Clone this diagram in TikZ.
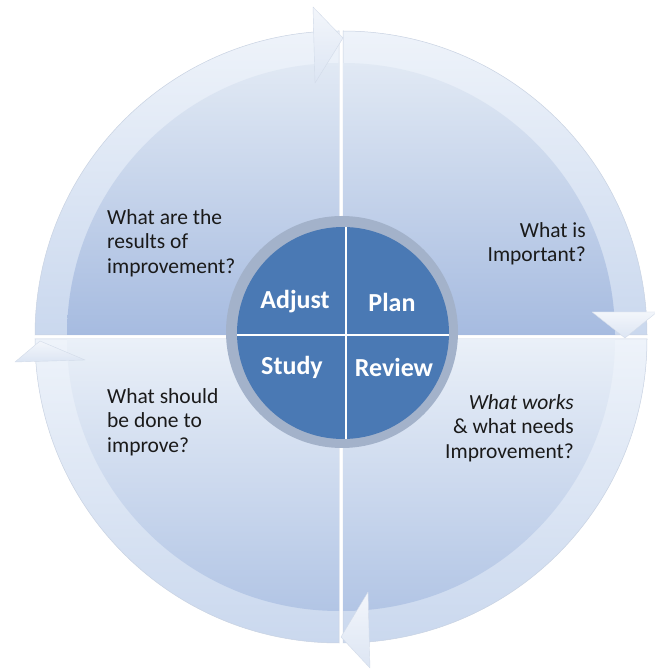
\documentclass[tikz,border=0pt]{standalone}
\usepackage{fontspec}
\setmainfont{Carlito}
\definecolor{bandA}{HTML}{EEF3FA}
\definecolor{bandB}{HTML}{CAD8EE}
\definecolor{quadA}{HTML}{E1E9F4}
\definecolor{quadB}{HTML}{A6BBE0}
\definecolor{quadC}{HTML}{EAF0F8}
\definecolor{quadD}{HTML}{B2C5E5}
\definecolor{ringcol}{HTML}{A3B2CA}
\definecolor{discblue}{HTML}{4A79B4}
\definecolor{edgecol}{HTML}{C8D2E2}
\definecolor{headA}{HTML}{F3F6FB}
\definecolor{headB}{HTML}{DCE5F3}
\definecolor{headedge}{HTML}{D2DBE9}
\definecolor{txt}{HTML}{1A1A1A}
\tikzset{
  band/.style={top color=bandA, bottom color=bandB, draw=edgecol, line width=0.5pt},
  upperquad/.style={top color=quadA, bottom color=quadB},
  lowerquad/.style={top color=quadC, bottom color=quadD},
  headshape/.style={top color=headA, bottom color=headB, draw=headedge, line width=0.4pt, line join=round},
  question/.style={font=\fontsize{21.5}{24.5}\selectfont, text=txt, inner sep=0pt},
  stagelabel/.style={font=\fontsize{26}{30}\selectfont\bfseries, text=white, inner sep=0pt},
}
\begin{document}
\begin{tikzpicture}[x=1pt,y=1pt]
\useasboundingbox (0,0) rectangle (655,670);
\fill[white] (0,0) rectangle (655,670);
% quadrant centres
\coordinate (ctl) at (339,335);
\coordinate (ctr) at (343,335);
\coordinate (cbl) at (339,331);
\coordinate (cbr) at (343,331);
% outer bands
\path[band] (ctl) -- ++(90:304) arc (90:180:304) -- cycle;
\path[band] (ctr) -- ++(0:304) arc (0:90:304) -- cycle;
\path[band] (cbl) -- ++(180:304) arc (180:270:304) -- cycle;
\path[band] (cbr) -- ++(270:304) arc (270:360:304) -- cycle;
% inner quarter discs
\path[upperquad] (ctl) -- ++(90:272) arc (90:180:272) -- cycle;
\path[upperquad] (ctr) -- ++(0:272) arc (0:90:272) -- cycle;
\path[lowerquad] (cbl) -- ++(180:272) arc (180:270:272) -- cycle;
\path[lowerquad] (cbr) -- ++(270:272) arc (270:360:272) -- cycle;
% arrow heads
\coordinate (ta1) at (313,663); \coordinate (ta2) at (315,587); \coordinate (tat) at (343,632);
\coordinate (ra1) at (592,358); \coordinate (ra2) at (657,358); \coordinate (rat) at (625,332);
\coordinate (ba1) at (368,78);  \coordinate (ba2) at (370,2);   \coordinate (bat) at (341,33);
\coordinate (la1) at (15,308);  \coordinate (la2) at (85,310);  \coordinate (lat) at (40,329);
\path[headshape] (ta1) -- (tat) -- (ta2) -- cycle;
\path[headshape] (ra1) -- (ra2) -- (rat) -- cycle;
\path[headshape] (ba1) -- (bat) -- (ba2) -- cycle;
\path[headshape] (la1) -- (lat) -- (la2) -- cycle;
% inner disc
\fill[ringcol] (342,338) circle (116);
\fill[discblue] (343,337) circle (106);
\coordinate (vt) at (346,443);
\coordinate (vb) at (346,231);
\coordinate (hl) at (237,335);
\coordinate (hr) at (449,335);
\draw[white, line width=2.6pt] (vt) -- (vb);
\draw[white, line width=2.6pt] (hl) -- (hr);
% stage labels
\node[stagelabel] (adjust) at (295,368) {Adjust};
\node[stagelabel] (plan) at (392,368) {Plan};
\node[stagelabel] (study) at (292,303) {Study};
\node[stagelabel] (review) at (394,303) {Review};
% questions
\node[question, anchor=west, align=left] (qtl) at (107,427) {What are the\\results of\\improvement?};
\node[question, anchor=east, align=right] (qtr) at (586,426) {What is\\Important?};
\node[question, anchor=west, align=left] (qbl) at (107,248) {What should\\be done to\\improve?};
\node[question, anchor=east, align=right] (qbr) at (574,242) {\itshape What works\\\upshape\& what needs\\Improvement?};
\end{tikzpicture}
\end{document}
